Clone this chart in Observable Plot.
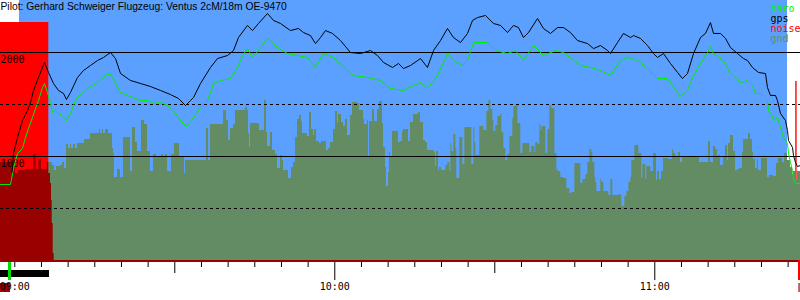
<!DOCTYPE html>
<html><head><meta charset="utf-8">
<script src="https://cdn.jsdelivr.net/npm/d3@7"></script>
<script src="https://cdn.jsdelivr.net/npm/@observablehq/plot@0.6"></script>
<style>html,body{margin:0;padding:0;background:#fff;} #chart svg{display:block}</style>
</head><body><div id="chart"></div>
<script>
// Time is in minutes after 09:00, altitude in metres.
const title = "Pilot: Gerhard Schweiger Flugzeug: Ventus 2cM/18m OE-9470";
const xDomain = [-2.68, 147.32];
const recordWindow = [{start: 0.88, end: 144.88}];

const legendNames = ["baro", "gps", "noise", "gnd"];
const legendColors = ["#00ee00", "#000000", "#ff0000", "#648c64"];

const yLabelTicks = [2000, 1000];
const solidGrid = [2000, 1000];
const dashedGrid = [1500, 500];
const hourTicks = [0, 60, 120];
const halfHourTicks = [30, 90];
const minorTicks = [0,5,10,15,20,25,35,40,45,50,55,65,70,75,80,85,95,100,105,110,115,125,130,135,140,145];

// noise level, percent of full scale (100% = top of chart)
const noise = [[-2.68,91.5],[6.38,0],[144.69,3.5],[144.88,0],[146.43,68.8],[146.69,0],[147.32,0]];

const gps = [[-0.53,846],[-0.24,1029],[0.51,1183],[1.44,1346],[2.38,1442],[2.94,1519],[3.51,1635],[4.44,1760],[5.19,1856],[5.57,1904],[6.32,1808],[7.26,1702],[8.19,1635],[9.13,1606],[9.69,1548],[10.44,1615],[11.76,1760],[12.88,1827],[14.19,1875],[15.51,1923],[16.63,1952],[17.94,2000],[18.88,1942],[19.82,1798],[21.69,1731],[23.57,1702],[25.44,1673],[27.32,1635],[29.19,1596],[30.69,1558],[32.01,1490],[32.94,1538],[33.51,1567],[34.82,1702],[36.69,1856],[38.01,1942],[39.88,1971],[41.01,2019],[41.94,2144],[43.63,2260],[44.57,2211],[45.69,2279],[47.38,2375],[48.51,2308],[49.82,2279],[51.69,2211],[53.19,2231],[54.13,2192],[55.44,2163],[56.38,2086],[57.32,2144],[58.26,2211],[59.57,2183],[61.07,2115],[62.94,2000],[64.82,1990],[66.69,2019],[68.01,1971],[69.13,1904],[70.82,1856],[71.94,1894],[72.88,1846],[74.19,1875],[76.07,1942],[77.38,1856],[78.51,2019],[79.82,2115],[81.13,2231],[82.26,2144],[83.57,2096],[84.88,2183],[85.82,2308],[86.76,2336],[88.26,2356],[89.76,2279],[91.07,2260],[92.38,2192],[93.51,2260],[94.44,2240],[95.38,2144],[96.32,2192],[98.01,2327],[99.13,2231],[100.44,2183],[101.76,2240],[102.88,2240],[104.19,2192],[105.51,2115],[107.38,2086],[108.51,2038],[109.82,2067],[111.13,2019],[111.69,1990],[113.01,2096],[114.13,2183],[115.44,2144],[116.01,2163],[117.32,2135],[118.63,2067],[119.76,1990],[120.51,1952],[121.63,1990],[122.94,1894],[124.26,1808],[125.19,1750],[126.13,1798],[127.26,1990],[128.57,2144],[129.51,2183],[130.44,2288],[131.01,2183],[132.32,2183],[133.26,2135],[134.19,2048],[135.51,1990],[136.63,1942],[137.38,1923],[138.32,1856],[139.44,1808],[140.76,1798],[141.13,1663],[141.69,1587],[142.63,1587],[143.0,1538],[143.57,1413],[144.51,1346],[144.88,1250],[145.07,1154],[145.82,1087],[146.01,1010],[146.38,942],[146.76,904],[147.32,913]];

const baro = [[-2.68,731],[-0.81,731],[-0.62,779],[-0.24,885],[0.51,1029],[1.44,1077],[2.01,1183],[2.57,1269],[3.32,1375],[3.88,1462],[4.44,1538],[5.19,1663],[5.57,1702],[6.13,1615],[6.69,1519],[7.07,1423],[7.63,1442],[8.19,1413],[8.94,1394],[9.69,1346],[10.44,1413],[11.38,1538],[11.76,1567],[13.63,1654],[15.51,1711],[17.01,1779],[17.94,1798],[18.88,1702],[19.82,1615],[21.69,1577],[23.57,1538],[24.88,1538],[26.01,1510],[27.32,1519],[28.63,1490],[29.76,1442],[31.07,1346],[32.19,1288],[33.51,1375],[34.82,1471],[36.13,1538],[37.26,1702],[38.57,1731],[40.44,1750],[41.76,1856],[42.69,1971],[43.63,2038],[44.57,1952],[45.69,2019],[47.38,2135],[49.26,2048],[51.13,1990],[53.01,1971],[54.88,1952],[56.38,1856],[57.88,1990],[59.76,1952],[62.38,1827],[63.51,1779],[66.13,1760],[68.57,1731],[70.44,1654],[72.88,1635],[74.76,1683],[76.07,1711],[77.38,1654],[79.26,1779],[81.13,1990],[82.26,1923],[83.94,1875],[84.88,1923],[86.01,2096],[88.63,2096],[90.13,2019],[92.38,1990],[93.88,2019],[95.38,1923],[97.26,2067],[99.13,1971],[101.38,2019],[102.88,2000],[104.76,1923],[106.07,1875],[107.94,1856],[109.82,1827],[111.69,1779],[113.57,1923],[114.88,1952],[116.76,1923],[118.63,1846],[120.51,1750],[122.38,1750],[124.82,1577],[126.13,1635],[127.26,1779],[128.57,1894],[129.88,2000],[130.44,2058],[131.01,1990],[132.88,1923],[134.19,1798],[136.07,1711],[137.38,1731],[138.32,1683],[138.88,1606],[139.82,1606],[141.13,1538],[141.32,1442],[142.07,1394],[142.26,1346],[143.01,1375],[143.57,1279],[144.13,1183],[144.88,1125],[145.07,1029],[145.44,942],[145.82,865],[146.01,788],[146.38,740],[147.32,740]];

// ground elevation under the track (stepped)
const gnd = [[6.32,942],[7.07,913],[7.44,865],[7.82,904],[8.57,913],[8.94,942],[9.32,885],[9.69,1115],[10.07,1077],[10.44,1115],[10.63,1077],[11.01,1115],[11.38,1077],[11.76,1125],[13.07,1163],[14.19,1221],[15.88,1260],[16.07,1221],[16.44,1260],[16.63,1221],[17.01,1260],[17.57,1221],[18.32,1077],[18.51,1029],[18.69,798],[19.26,875],[19.82,798],[20.38,1183],[21.69,856],[22.07,1279],[22.63,1135],[23.01,1048],[23.76,1346],[24.32,1308],[24.88,1048],[25.44,856],[26.01,1019],[26.57,990],[27.51,1019],[27.88,990],[28.26,1019],[28.63,856],[29.38,1019],[29.94,1125],[30.88,990],[31.82,837],[32.01,962],[35.94,1269],[36.32,962],[36.69,1308],[39.13,1442],[39.69,1346],[40.07,1154],[40.44,1269],[41.01,1308],[41.38,1442],[43.26,1471],[43.63,1442],[43.82,1221],[44.01,1087],[44.19,1317],[45.88,1250],[46.82,1538],[47.19,1231],[47.38,1096],[47.94,1231],[48.32,1058],[48.88,1019],[49.26,885],[49.82,1010],[50.19,962],[50.38,865],[51.32,788],[51.88,894],[52.26,942],[52.63,1183],[53.01,1356],[53.38,1394],[53.76,1337],[53.94,1221],[54.88,1192],[55.26,1423],[55.63,1260],[56.01,1202],[56.19,1260],[56.57,1144],[57.13,1125],[57.51,1144],[58.44,1058],[58.82,1077],[59.19,1135],[59.76,1260],[60.13,1433],[60.51,1317],[60.69,1404],[61.26,1327],[61.63,1288],[62.01,1356],[62.38,1202],[62.94,1394],[63.32,1519],[64.26,1510],[64.63,1442],[65.38,1356],[65.57,1308],[66.13,1346],[66.32,1000],[66.51,1337],[67.07,1452],[67.44,1337],[68.01,1452],[68.38,1529],[68.94,1317],[69.13,1087],[69.51,894],[69.69,712],[70.07,846],[70.26,1038],[70.44,990],[70.82,1240],[71.94,1135],[72.32,1144],[72.69,1240],[72.88,1260],[73.82,1144],[74.19,1327],[74.76,1404],[75.69,1423],[76.07,1327],[76.63,1154],[77.01,1135],[77.38,1058],[78.69,1038],[78.88,904],[79.07,1048],[79.44,865],[79.63,894],[80.01,865],[80.82,913],[81.19,942],[81.57,856],[81.76,1125],[81.94,1048],[82.32,1212],[82.69,1077],[82.88,788],[83.44,1183],[84.01,923],[84.38,1279],[85.69,923],[86.07,1279],[86.26,1135],[86.44,1010],[87.19,1288],[87.94,1250],[88.51,1433],[88.88,1538],[89.26,1452],[89.63,1346],[89.82,1240],[90.19,1298],[90.57,1385],[91.13,1404],[91.32,1231],[91.69,1077],[92.07,962],[92.44,1019],[92.82,1192],[93.38,1365],[93.57,1481],[93.94,1490],[94.32,1317],[94.88,1029],[95.26,1125],[96.57,1038],[96.94,1096],[97.51,1038],[97.69,1135],[98.07,1115],[98.44,1308],[98.63,1250],[98.82,1288],[99.57,1029],[99.94,1260],[100.32,1490],[100.69,1462],[101.26,1029],[101.63,875],[101.82,856],[102.38,798],[102.94,788],[103.51,692],[104.07,644],[104.44,654],[105.01,933],[106.13,740],[106.51,779],[107.07,827],[107.44,942],[107.82,1067],[108.19,1038],[108.38,942],[108.76,798],[108.94,750],[109.13,663],[109.88,779],[110.07,750],[110.44,663],[111.38,625],[111.76,779],[112.13,625],[113.26,635],[113.63,625],[113.82,519],[114.38,615],[114.76,663],[115.13,750],[115.51,798],[115.69,962],[116.26,1106],[117.01,1029],[117.57,788],[117.76,923],[118.32,779],[118.51,904],[119.26,856],[119.76,1029],[120.32,769],[120.51,856],[120.88,779],[121.26,856],[121.63,981],[122.57,971],[123.32,1067],[123.51,1029],[123.88,990],[124.44,1038],[124.82,942],[125.19,990],[128.38,942],[130.07,1144],[130.44,942],[131.01,1096],[131.38,1067],[131.76,990],[131.94,1010],[132.32,913],[132.88,990],[133.26,1106],[133.63,962],[133.82,1125],[134.19,1202],[134.76,1048],[135.13,865],[135.51,875],[135.88,885],[136.44,1038],[136.63,1163],[137.57,1221],[137.94,1163],[138.32,1038],[138.51,971],[138.88,885],[139.26,971],[139.44,865],[140.01,981],[141.13,798],[141.51,817],[142.26,808],[142.82,933],[143.19,981],[143.94,942],[144.32,1029],[144.88,962],[145.44,894],[145.82,827],[146.01,856],[146.38,769],[146.76,856],[147.32,856]];

// ground under the engine-running phase (dark red)
const engineGnd = [[-2.68,942],[-0.62,894],[0.13,837],[0.69,865],[2.01,875],[3.56,1019],[4.01,875],[4.50,971],[5.01,875],[6.08,942],[6.38,837],[6.69,740],[6.88,577],[7.01,356],[7.20,67],[7.39,0]];

// event markers below the time axis
const takeoffMark = [{t1: -1.18, t2: -0.62}];
const towBar = [{t1: -2.68, t2: 6.51}];
const landingMark = [{t1: 146.94, t2: 147.32}];
const darkMarks = [{t1: -2.68, t2: -0.81}, {t1: 147.03, t2: 147.25}];

const rows = a => a.map(([t, v]) => ({t, v}));
const fmtTime = m => { const h = 9 + Math.floor(m / 60), mm = Math.round(m % 60); return String(h).padStart(2, "0") + ":" + String(mm).padStart(2, "0"); };

const BLUE = "#5ca0ff";
const MONO = "DejaVu Sans Mono";

const legendMarks = legendNames.map((name, i) =>
  Plot.text([name], {frameAnchor: "top-right", textAnchor: "start", lineAnchor: "bottom",
    dx: -30, dy: 11 + 10 * i, fill: legendColors[i], fontFamily: MONO, fontSize: 10}));

const chart = Plot.plot({
  width: 800, height: 300,
  marginTop: 0, marginRight: 0, marginBottom: 40, marginLeft: 0,
  x: {domain: xDomain, axis: null},
  y: {domain: [0, 2500], axis: null},
  style: {background: "transparent", overflow: "visible"},
  marks: [
    Plot.rect(recordWindow, {x1: "start", x2: "end", fill: BLUE}),
    Plot.areaY(rows(noise), {x: "t", y: d => d.v * 25, curve: "step-after", fill: "#ff0000"}),
    Plot.areaY(rows(gnd), {x: "t", y: "v", curve: "step-after", fill: "#648c64"}),
    Plot.areaY(rows(engineGnd), {x: "t", y: "v", curve: "step-after", fill: "#990000"}),
    Plot.ruleY(dashedGrid, {stroke: "#000", strokeWidth: 1, strokeDasharray: "3,3"}),
    Plot.ruleY(solidGrid, {stroke: "#000", strokeWidth: 1}),
    Plot.text(yLabelTicks, {y: d => d, text: d => String(d), frameAnchor: "left", textAnchor: "start", lineAnchor: "top", dy: 3, fontFamily: MONO, fontSize: 10, fill: "#000"}),
    Plot.line(rows(baro), {x: "t", y: "v", stroke: "#00ee00", strokeWidth: 1}),
    Plot.line(rows(gps), {x: "t", y: "v", stroke: "#000", strokeWidth: 1}),
    Plot.ruleY([0], {stroke: "#990000", strokeWidth: 2, dy: 0.5}),
    Plot.ruleX(minorTicks, {stroke: "#000", insetTop: 262, insetBottom: -7}),
    Plot.ruleX(halfHourTicks, {stroke: "#000", insetTop: 262, insetBottom: -13}),
    Plot.ruleX(hourTicks.filter(d => d > 0), {stroke: "#000", insetTop: 262, insetBottom: -20}),
    Plot.rect(towBar, {x1: "t1", x2: "t2", fill: "#000", insetTop: 270, insetBottom: -17}),
    Plot.rect(takeoffMark, {x1: "t1", x2: "t2", fill: "#00dd00", insetTop: 262, insetBottom: -20}),
    Plot.rect(landingMark, {x1: "t1", x2: "t2", fill: "#ff0000", insetTop: 260, insetBottom: -20}),
    Plot.rect(darkMarks, {x1: "t1", x2: "t2", fill: "#990000", insetTop: 283, insetBottom: -32}),
    Plot.text(hourTicks, {x: d => d, y: 0, text: fmtTime, dy: 22, lineAnchor: "top", fontFamily: MONO, fontSize: 10, fill: "#000"}),
    Plot.text([title], {frameAnchor: "top-left", textAnchor: "start", lineAnchor: "bottom", dy: 9.3, fontFamily: "Liberation Sans", fontSize: 10.3, fill: "#000"}),
    ...legendMarks
  ]
});
document.getElementById("chart").append(chart);
</script>
</body></html>
